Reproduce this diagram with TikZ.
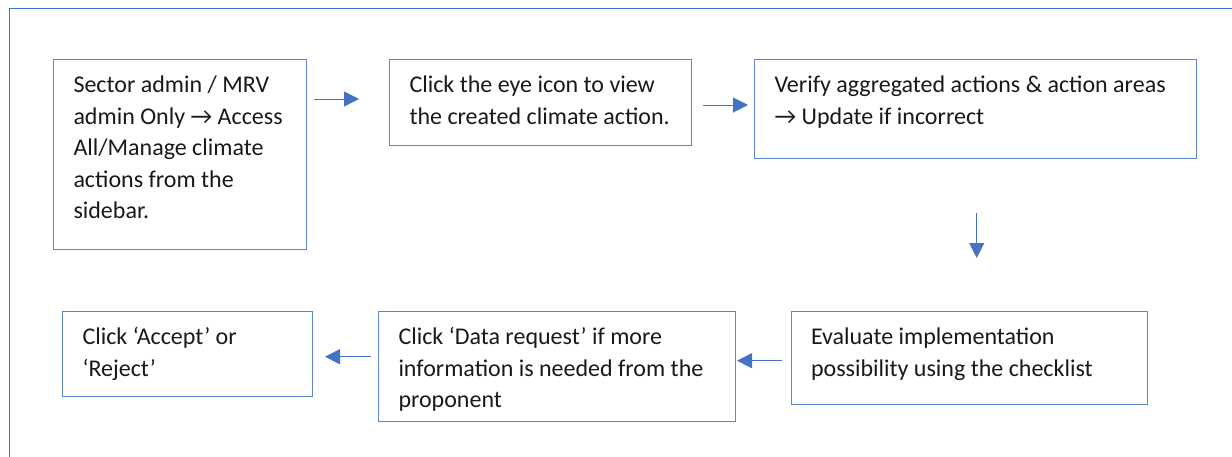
\documentclass[tikz,border=0pt]{standalone}
\usepackage{fontspec}
\setmainfont{Carlito}
\usetikzlibrary{arrows.meta,calc}
\definecolor{oblue}{HTML}{4472C4}
\definecolor{bblue}{HTML}{5B83CC}
\newcommand{\boxtext}[3]{\parbox[t][#2][t]{#1}{\raggedright\strut #3}}
\begin{document}
\begin{tikzpicture}[x=1pt,y=-1pt,
  stepbox/.style={draw=bblue,line width=1pt,inner xsep=20pt,inner ysep=11pt,anchor=north west,
    font=\fontsize{24}{31.5}\selectfont,text=black!90},
  arr/.style={draw=oblue,line width=1pt,-{Triangle[length=15pt,width=15pt]}}]
\useasboundingbox (0,0) rectangle (1232,456);
\draw[oblue,line width=1pt] (9.3,460) -- (9.3,8) -- (1240,8);
\node[stepbox] (b1) at (53,59) {\boxtext{213pt}{168pt}{Sector admin / MRV\\admin Only → Access\\All/Manage climate\\actions from the\\sidebar.}};
\node[stepbox] (b2) at (389,59) {\boxtext{262pt}{64pt}{Click the eye icon to view\\the created climate action.}};
\node[stepbox] (b3) at (754,59) {\boxtext{402pt}{77pt}{Verify aggregated actions \& action areas\\→ Update if incorrect}};
\node[stepbox] (b4) at (790.5,311) {\boxtext{316.5pt}{71pt}{Evaluate implementation\\possibility using the checklist}};
\node[stepbox] (b5) at (378,311) {\boxtext{317pt}{88pt}{Click ‘Data request’ if more\\information is needed from the\\proponent}};
\node[stepbox] (b6) at (62,311) {\boxtext{210pt}{63pt}{Click ‘Accept’ or\\‘Reject’}};
\draw[arr] ($(b1.north east)+(7,40)$) -- ($(b2.north west)+(-30,40)$);
\draw[arr] ($(b2.north east)+(11,46)$) -- ($(b3.north west)+(-6,46)$);
\draw[arr] ($(b3.south west)+(222.7,54)$) -- ($(b4.north west)+(186.2,-53)$);
\draw[arr] ($(b4.north west)+(-8.5,49.7)$) -- ($(b5.north east)+(1,49.7)$);
\draw[arr] ($(b5.north west)+(-7.3,45.7)$) -- ($(b6.north east)+(12,45.7)$);
\end{tikzpicture}
\end{document}
